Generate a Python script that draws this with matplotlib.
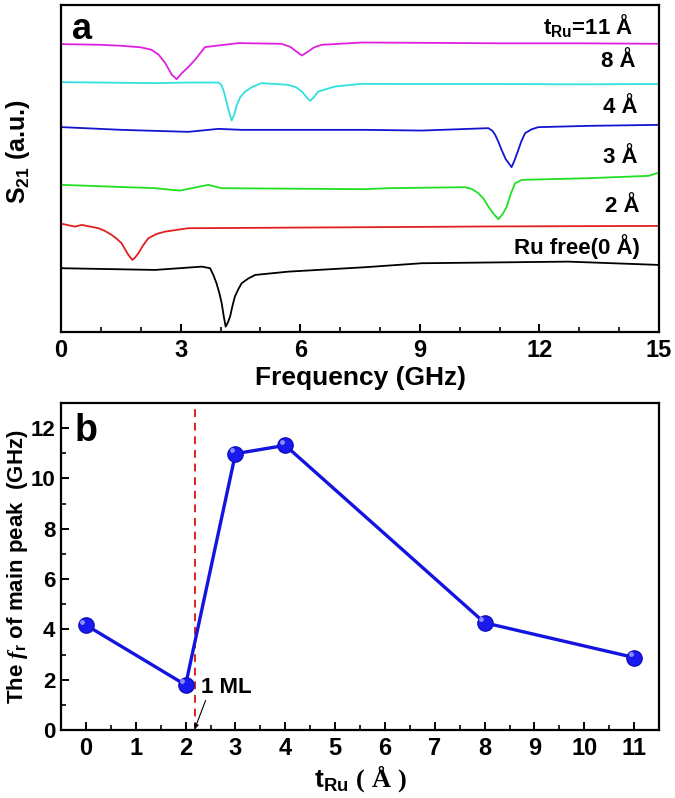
import matplotlib
matplotlib.use("Agg")
import matplotlib.pyplot as plt
from matplotlib.transforms import offset_copy

plt.rcParams["font.family"] = ["Liberation Sans", "DejaVu Sans"]
plt.rcParams["font.weight"] = "bold"
plt.rcParams["mathtext.fontset"] = "custom"
plt.rcParams["mathtext.rm"] = "Liberation Sans:bold"
plt.rcParams["mathtext.bf"] = "Liberation Sans:bold"
plt.rcParams["mathtext.it"] = "Liberation Serif:italic"
plt.rcParams["mathtext.sf"] = "Liberation Serif:bold"
plt.rcParams["mathtext.default"] = "rm"

# ---- panel a: S21 spectra (frequency in GHz, offset signal in a.u.) ----
f_11 = [0.03, 1.0, 1.52, 2.0, 2.27, 2.45, 2.61, 2.78, 2.90, 3.03, 3.2, 3.36, 3.61, 4.45,
        5.53, 5.75, 5.87, 6.04, 6.20, 6.35, 6.54, 7.54, 9.0, 11.0, 13.0, 15.0]
s_11 = [28.77, 28.7, 28.6, 28.45, 28.2, 27.7, 26.9, 25.7, 25.27, 25.87, 26.5, 27.2, 28.47, 28.87,
        28.8, 28.5, 28.13, 27.63, 28.03, 28.45, 28.7, 28.93, 28.9, 28.85, 28.85, 28.8]

f_8 = [0.03, 2.36, 3.19, 3.95, 4.02, 4.07, 4.14, 4.20, 4.28, 4.35, 4.41, 4.5, 4.62, 4.8,
       5.03, 5.70, 5.9, 6.04, 6.15, 6.25, 6.35, 6.45, 6.87, 7.54, 9.0, 11.0, 13.0, 15.0]
s_8 = [24.97, 24.87, 24.93, 24.93, 24.7, 24.2, 23.2, 22.2, 21.13, 21.8, 22.7, 23.5, 24.03, 24.5,
       24.87, 24.7, 24.45, 24.03, 23.5, 23.1, 23.5, 24.03, 24.53, 24.8, 24.78, 24.78, 24.75, 24.78]

f_4 = [0.03, 1.52, 3.19, 3.95, 4.53, 7.62, 9.05, 10.72, 10.82, 10.89, 10.97, 11.05, 11.15,
       11.30, 11.38, 11.47, 11.55, 11.64, 11.8, 11.97, 13.23, 15.0]
s_4 = [20.47, 20.2, 20.0, 20.3, 20.2, 20.2, 20.13, 20.37, 20.1, 19.7, 19.0, 18.2, 17.3,
       16.47, 17.2, 18.2, 19.1, 19.87, 20.25, 20.47, 20.6, 20.7]

f_3 = [0.03, 2.36, 2.98, 3.69, 4.03, 7.62, 8.21, 10.13, 10.3, 10.47, 10.6, 10.72, 10.85,
       10.97, 11.08, 11.18, 11.28, 11.39, 11.56, 13.23, 14.73, 15.0]
s_3 = [14.7, 14.37, 14.13, 14.7, 14.37, 14.27, 14.37, 14.47, 14.3, 13.87, 13.3, 12.53, 11.8,
       11.27, 11.8, 12.53, 13.8, 14.87, 15.2, 15.37, 15.6, 15.93]

f_2 = [0.03, 0.35, 0.52, 0.94, 1.1, 1.27, 1.4, 1.52, 1.6, 1.69, 1.79, 1.86, 1.94, 2.05,
       2.19, 2.4, 2.61, 3.19, 7.62, 11.0, 15.0]
s_2 = [10.8, 10.53, 10.7, 10.37, 10.1, 9.7, 9.3, 8.87, 8.3, 7.7, 7.2, 7.45, 7.87, 8.6,
       9.37, 9.8, 10.03, 10.37, 10.47, 10.55, 10.6]

f_0 = [0.03, 2.36, 3.53, 3.74, 3.82, 3.90, 3.97, 4.03, 4.08, 4.13, 4.18, 4.24, 4.30, 4.36,
       4.45, 4.53, 4.7, 4.87, 5.70, 7.62, 9.05, 12.72, 15.0]
s_0 = [6.37, 6.2, 6.53, 6.37, 5.7, 4.87, 3.9, 2.87, 1.6, 0.53, 0.9, 1.53, 2.6, 3.53,
       4.3, 4.87, 5.35, 5.7, 6.03, 6.47, 6.87, 7.03, 6.7]

spectra = [
    (f_11, s_11, "#e020e0"),
    (f_8, s_8, "#30e0e0"),
    (f_4, s_4, "#1414d0"),
    (f_3, s_3, "#22e022"),
    (f_2, s_2, "#e02020"),
    (f_0, s_0, "black"),
]

labels_a = [r"t$_\mathrm{Ru}$=11 Å", "8 Å", "4 Å", "3 Å", "2 Å", "Ru free(0 Å)"]
label_x = [14.35, 14.4, 14.47, 14.45, 14.5, 14.52]
label_y = [30.6, 27.0, 22.4, 17.4, 12.5, 8.5]

# ---- panel b: main resonance peak vs Ru thickness ----
t_ru = [0, 2, 3, 4, 8, 11]
f_r = [4.17, 1.79, 10.98, 11.31, 4.26, 2.88]

fig = plt.figure(figsize=(6.75, 7.98), dpi=100)
ax1 = fig.add_axes([0.0904, 0.584, 0.886, 0.41])
ax2 = fig.add_axes([0.0904, 0.0852, 0.886, 0.41])

for f, s, c in spectra:
    ax1.plot(f, s, color=c, lw=1.3)

for lab, x, y in zip(labels_a, label_x, label_y):
    ax1.text(x, y, lab, ha="right", va="center", fontsize=16, fontweight="bold")

ax1.text(0.28, 30.2, "a", fontsize=26, fontweight="bold", va="center")
ax1.set_xlim(0, 15)
ax1.set_ylim(0, 32.7)
ax1.set_xticks(range(0, 16, 3))
ax1.set_xticks(range(0, 16), minor=True)
ax1.set_yticks([])
ax1.set_xlabel("Frequency (GHz)", fontsize=19, fontweight="bold", labelpad=3)
ax1.set_ylabel(r"S$_\mathrm{21}$ (a.u.)", fontsize=18, fontweight="bold")
ax1.yaxis.set_label_coords(-0.048, 0.55)

ax2.plot(t_ru, f_r, color="#1414e0", lw=2.4, marker="o", ms=11,
         markerfacecolor="#1a1af0", markeredgecolor="#1010c0", zorder=3)
# small highlight on each ball marker
hl = offset_copy(ax2.transData, fig=fig, x=-2.5, y=2.5, units="points")
ax2.plot(t_ru, f_r, ls="none", marker="o", ms=3.5, color="#8c8cff",
         markeredgewidth=0, transform=hl, zorder=4)
ax2.axvline(2.18, color="#e02020", ls=(0, (4, 3)), lw=1.4)
ax2.annotate("1 ML", xy=(2.18, 0.03), xytext=(2.3, 1.7),
             fontsize=16, fontweight="bold", va="center",
             arrowprops=dict(arrowstyle="-|>", color="black", lw=0.8,
                             shrinkA=0, shrinkB=0, mutation_scale=7,
                             relpos=(0.12, 0.0)))
ax2.text(-0.22, 11.9, "b", fontsize=27, fontweight="bold", va="center")
ax2.set_xlim(-0.5, 11.5)
ax2.set_ylim(0, 13)
ax2.set_xticks(range(0, 12))
ax2.set_xticks([i + 0.5 for i in range(0, 11)], minor=True)
ax2.set_yticks(range(0, 13, 2))
ax2.set_yticks(range(0, 13), minor=True)
ax2.set_xlabel(r"t$_\mathrm{Ru}$ $\mathsf{(\ Å\ )}$", fontsize=19, fontweight="bold", labelpad=2)
ax2.set_ylabel(r"The $\mathit{f}_\mathrm{r}$ of main peak  (GHz)", fontsize=16,
               fontweight="bold")
ax2.yaxis.set_label_coords(-0.052, 0.5)

for ax in (ax1, ax2):
    for sp in ax.spines.values():
        sp.set_linewidth(1.6)
    ax.tick_params(which="major", direction="in", length=6, width=1.4,
                   labelsize=17, pad=5)
    ax.tick_params(which="minor", direction="in", length=3.5, width=1.2)
    for lab in ax.get_xticklabels() + ax.get_yticklabels():
        lab.set_fontweight("bold")
ax2.tick_params(axis="y", which="major", labelsize=16, pad=4)

fig.savefig("out.png", dpi=100)
